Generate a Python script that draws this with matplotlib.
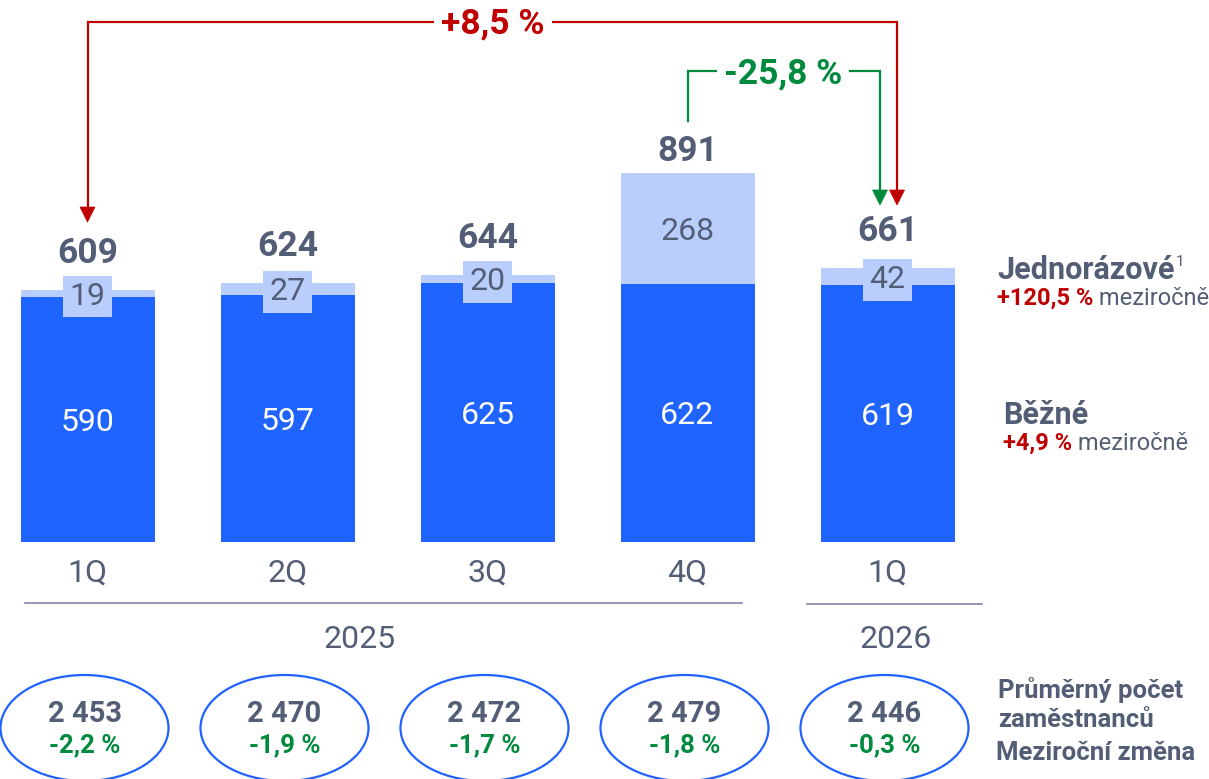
import matplotlib
matplotlib.use('Agg')
import matplotlib.pyplot as plt
import numpy as np
from matplotlib.patches import Ellipse, Polygon

# ---------------- data ----------------
quarters = ['1Q', '2Q', '3Q', '4Q', '1Q']
years = ['2025', '2026']
regular = [590, 597, 625, 622, 619]          # Běžné
one_off = [19, 27, 20, 268, 42]              # Jednorázové
totals = [609, 624, 644, 891, 661]
headcount = ['2 453', '2 470', '2 472', '2 479', '2 446']
headcount_yoy = ['-2,2 %', '-1,9 %', '-1,7 %', '-1,8 %', '-0,3 %']
change_yoy_total = '+8,5 %'
change_qoq_total = '-25,8 %'
series_names = ['Jednorázové', 'Běžné']
series_yoy = ['+120,5 %', '+4,9 %']
yoy_word = 'meziročně'
headcount_title = ['Průměrný počet', 'zaměstnanců', 'Meziroční změna']

# ---------------- style ----------------
plt.rcParams['font.family'] = ['Roboto', 'DejaVu Sans']
DARK = '#1f64ff'
LIGHT = '#b9cefc'
GRAY = '#535e76'
RED = '#c00000'
GREEN = '#008a3e'
LINE = '#8581ac'
ELL = '#2162ff'

W, H = 1209, 779
fig = plt.figure(figsize=(W / 100, H / 100), dpi=100)

# main axes: x = bar index, y = value; pixel mapping chosen to fit the layout
PX_PER_UNIT = 0.4136
BASE_PX = 541.5
X0_PX, STEP_PX = 87.5, 200.0
ax = fig.add_axes([0, 0, 1, 1])
ax.set_xlim(-X0_PX / STEP_PX, (W - X0_PX) / STEP_PX)
ax.set_ylim(-(H - BASE_PX) / PX_PER_UNIT, BASE_PX / PX_PER_UNIT)
ax.axis('off')

x = np.arange(len(quarters))
ax.bar(x, regular, width=0.67, color=DARK, zorder=2)
ax.bar(x, one_off, bottom=regular, width=0.67, color=LIGHT, zorder=2)

for i in x:
    ax.text(i, regular[i] / 2, str(regular[i]), color='white', fontsize=23,
            ha='center', va='center_baseline', zorder=3)
    ax.text(i, regular[i] + one_off[i] / 2, str(one_off[i]), color=GRAY, fontsize=23,
            ha='center', va='center_baseline', zorder=3,
            bbox=dict(boxstyle='square,pad=0.2', fc=LIGHT, ec='none'))
    off = (40 if one_off[i] < 60 else 25) / PX_PER_UNIT
    ax.text(i, totals[i] + off, str(totals[i]), color=GRAY, fontsize=25.5,
            fontweight='bold', ha='center', va='center_baseline', zorder=3)

# overlay axes in pixel coordinates for decorations
ov = fig.add_axes([0, 0, 1, 1], zorder=5)
ov.set_xlim(0, W)
ov.set_ylim(H, 0)
ov.axis('off')
ov.patch.set_alpha(0)

def bar_px(i):
    return X0_PX + STEP_PX * i

# quarter labels and year lines
for i, q in enumerate(quarters):
    ov.text(bar_px(i), 573, q, color=GRAY, fontsize=23, ha='center', va='center')
ov.plot([24.5, 742], [603, 603], color=LINE, lw=1.2)
ov.plot([807, 982], [604, 604], color=LINE, lw=1.2)
ov.text(360, 639, years[0], color=GRAY, fontsize=23, ha='center', va='center')
ov.text(896, 639, years[1], color=GRAY, fontsize=23, ha='center', va='center')

# arrows
def head(xc, top, tip, color):
    ov.add_patch(Polygon([(xc - 7.5, top), (xc + 7.5, top), (xc, tip)],
                         closed=True, fc=color, ec=color, lw=0.5, zorder=6))

xr = 897
ov.plot([bar_px(0), bar_px(0), xr, xr], [208, 22, 22, 192], color=RED, lw=1.6,
        solid_joinstyle='miter')
head(bar_px(0), 207, 222, RED)
head(xr, 190, 205, RED)
ov.text(493, 24, change_yoy_total, color=RED, fontsize=25.5, fontweight='bold',
        ha='center', va='center', zorder=7,
        bbox=dict(boxstyle='square,pad=0.2', fc='white', ec='none'))

xg = 880
ov.plot([bar_px(3), bar_px(3), xg, xg], [121, 71, 71, 192], color=GREEN, lw=1.6,
        solid_joinstyle='miter')
head(xg, 190, 205, GREEN)
ov.text(783, 74, change_qoq_total, color=GREEN, fontsize=25.5, fontweight='bold',
        ha='center', va='center', zorder=7,
        bbox=dict(boxstyle='square,pad=0.2', fc='white', ec='none'))

# headcount ellipses
for i in x:
    cx = bar_px(i) - 3
    ov.add_patch(Ellipse((cx, 728), 168, 106, fc='none', ec=ELL, lw=1.6))
    ov.text(cx, 714, headcount[i], color=GRAY, fontsize=21, fontweight='bold',
            ha='center', va='center')
    ov.text(cx, 745, headcount_yoy[i], color=GREEN, fontsize=18.5, fontweight='bold',
            ha='center', va='center')

# right side legend texts
renderer = fig.canvas.get_renderer()

def inline(xs, y, parts):
    cur = xs
    for txt, color, weight, size in parts:
        t = ov.text(cur, y, txt, color=color, fontsize=size, fontweight=weight,
                    ha='left', va='center')
        bb = t.get_window_extent(renderer=renderer)
        cur += bb.width

t1 = ov.text(997, 270, series_names[0], color=GRAY, fontsize=22, fontweight='bold',
             ha='left', va='center')
bb = t1.get_window_extent(renderer=renderer)
ov.text(997 + bb.width + 1, 262, '1', color=GRAY, fontsize=11, ha='left', va='center')
inline(997, 298, [(series_yoy[0], RED, 'bold', 17), (' ' + yoy_word, GRAY, 'normal', 17)])

ov.text(1003, 415, series_names[1], color=GRAY, fontsize=22, fontweight='bold',
        ha='left', va='center')
inline(1003, 443, [(series_yoy[1], RED, 'bold', 17), (' ' + yoy_word, GRAY, 'normal', 17)])

ov.text(998, 690, headcount_title[0], color=GRAY, fontsize=18.5, fontweight='bold',
        ha='left', va='center')
ov.text(998, 720, headcount_title[1], color=GRAY, fontsize=18.5, fontweight='bold',
        ha='left', va='center')
ov.text(996, 753, headcount_title[2], color=GRAY, fontsize=18.5, fontweight='bold',
        ha='left', va='center')

fig.savefig('out.png', dpi=100)
